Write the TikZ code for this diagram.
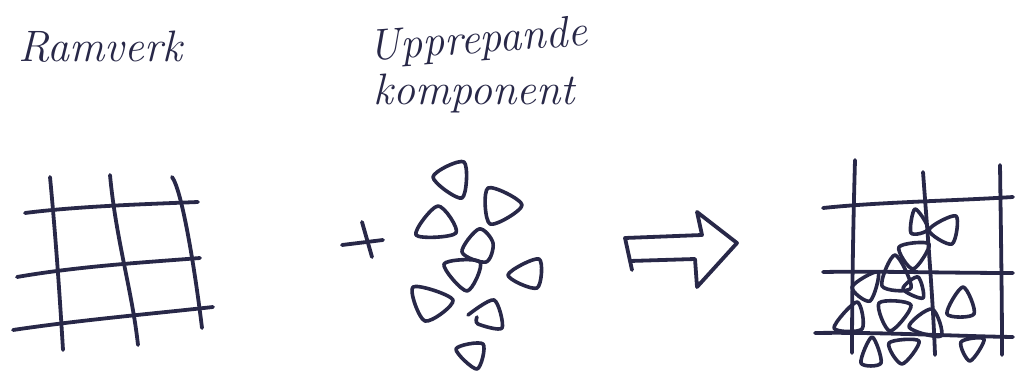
\documentclass[tikz,border=0pt]{standalone}
\usepackage{fontspec}
\begin{document}
\begin{tikzpicture}[x=0.5pt,y=-0.5pt,
  ink/.style={draw=inkc,line width=1.9pt,line cap=round,line join=round},
  tri/.style={draw=inkc,line width=1.8pt,line cap=round,line join=round,smooth cycle,tension=0.55},
  otri/.style={draw=inkc,line width=1.8pt,line cap=round,line join=round,smooth,tension=0.5},
  lbl/.style={text=inkc,font=\itshape\fontsize{22}{26}\selectfont,inner sep=0pt}]
\definecolor{inkc}{RGB}{40,40,72}
\useasboundingbox (0,0) rectangle (1015,373);
\fill[white] (0,0) rectangle (1015,373);
% labels
\node[lbl] (ramverk) at (100,47) {Ramverk};
\node[lbl,rotate=4] (upp) at (478,42) {Upprepande};
\node[lbl] (komp) at (474,94) {komponent};
% grid 1
\draw[ink] (50,177) .. controls (56,240) and (60,300) .. (63,350);
\draw[ink] (110,175) .. controls (116,240) and (132,290) .. (138,345);
\draw[ink] (172,177) .. controls (182,190) and (195,270) .. (202,328);
\draw[ink] (25,213) .. controls (80,206) and (150,204) .. (198,202);
\draw[ink] (17,277) .. controls (80,266) and (150,262) .. (200,258);
\draw[ink] (13,330) .. controls (80,320) and (150,314) .. (213,307);
% plus
\draw[ink] (342,245) -- (383,240);
\draw[ink] (362,222) -- (372,257);
% components
\draw[tri] plot coordinates {(433,177) (464,162) (462,198)};
\draw[tri] plot coordinates {(488,188) (522,205) (490,224)};
\draw[tri] plot coordinates {(438,206) (416,235) (456,233)};
\draw[tri] plot coordinates {(479,229) (462,252) (486,262) (493,243)};
\draw[tri] plot coordinates {(444,264) (480,262) (467,291)};
\draw[tri] plot coordinates {(508,275) (539,259) (537,288)};
\draw[tri] plot coordinates {(413,287) (453,300) (425,321)};
\draw[otri] plot coordinates {(468,315) (494,300) (502,328) (478,324) (477,317)};
\draw[tri] plot coordinates {(456,349) (483,344) (477,369)};
% arrow
\draw[ink] (632,270) -- (625,238) -- (702,235) -- (697,212) -- (737,243) -- (697,287) -- (695,259) -- (630,261);
% grid 2
\draw[ink] (855,160) .. controls (853,230) and (852,300) .. (852,353);
\draw[ink] (923,172) .. controls (928,240) and (933,300) .. (935,355);
\draw[ink] (1000,165) .. controls (1001,240) and (1002,300) .. (1002,355);
\draw[ink] (823,208) .. controls (880,202) and (950,201) .. (1013,197);
\draw[ink] (823,272) .. controls (880,271) and (950,273) .. (1013,273);
\draw[ink] (815,333) .. controls (880,332) and (950,336) .. (1013,337);
\draw[tri] plot coordinates {(915,209) (911,233) (928,229)};
\draw[tri] plot coordinates {(956,216) (929,230) (952,244)};
\draw[tri] plot coordinates {(899,247) (929,244) (913,269)};
\draw[tri] plot coordinates {(895,255) (882,286) (911,288)};
\draw[tri] plot coordinates {(903,289) (918,277) (923,298)};
\draw[tri] plot coordinates {(878,272) (852,287) (870,301)};
\draw[tri] plot coordinates {(879,303) (911,305) (890,331)};
\draw[tri] plot coordinates {(857,302) (834,328) (862,329)};
\draw[tri] plot coordinates {(932,309) (909,327) (941,336)};
\draw[tri] plot coordinates {(963,287) (947,314) (974,314)};
\draw[tri] plot coordinates {(872,337) (861,363) (881,363)};
\draw[tri] plot coordinates {(889,343) (919,341) (902,364)};
\draw[tri] plot coordinates {(961,342) (984,339) (970,361)};
\end{tikzpicture}
\end{document}
